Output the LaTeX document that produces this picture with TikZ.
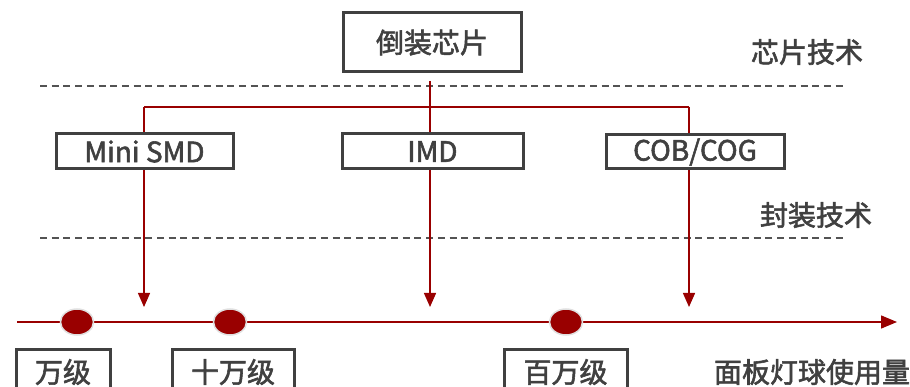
\documentclass[tikz,border=0pt]{standalone}
\usepackage{fontspec}
\setmainfont{Noto Sans CJK SC}[FakeBold=2]
\usetikzlibrary{arrows.meta,shapes.geometric}
\definecolor{dred}{HTML}{990000}
\definecolor{txt}{HTML}{404040}
\begin{document}
\begin{tikzpicture}[x=1pt,y=-1pt,
  box/.style={draw=txt,line width=3pt,fill=white,text=txt,inner sep=0pt,
    font=\fontsize{28}{30}\selectfont},
  lbl/.style={text=txt,inner sep=0pt,font=\fontsize{28}{30}\selectfont},
  conn/.style={draw=dred,line width=1.4pt},
  tip/.style={-{Triangle[width=12pt,length=14pt]}},
  dashln/.style={draw=txt!90,line width=1.8pt,dash pattern=on 7pt off 4.7pt},
  dot/.style={ellipse,fill=dred,draw=black!12,line width=1.5pt,
    minimum width=33pt,minimum height=26pt,inner sep=0pt}]
\useasboundingbox (0,0) rectangle (910,387);
% dashed separators
\coordinate (d1a) at (40,86); \coordinate (d1b) at (845,86);
\coordinate (d2a) at (40,238); \coordinate (d2b) at (845,238);
\draw[dashln] (d1a) -- (d1b);
\draw[dashln] (d2a) -- (d2b);
% connector coordinates
\coordinate (j0) at (430,81);
\coordinate (j1) at (430,107);
\coordinate (jl) at (144,107);
\coordinate (jr) at (689,107);
\coordinate (t1) at (144,307);
\coordinate (t2) at (430,307);
\coordinate (t3) at (689,307);
\coordinate (ax0) at (17,322);
\coordinate (ax1) at (897,322);
\draw[conn] (j0) -- (j1);
\draw[conn] (jl) -- (jr);
\draw[conn,tip,fill=dred] (jl) -- (t1);
\draw[conn,tip,fill=dred] (j1) -- (t2);
\draw[conn,tip,fill=dred] (jr) -- (t3);
\draw[conn,-{Triangle[width=13pt,length=16pt]},fill=dred] (ax0) -- (ax1);
% boxes
\node[box,minimum width=178pt,minimum height=59pt] (top) at (432,42.5) {倒装芯片};
\node[box,minimum width=177pt,minimum height=35pt] (mini) at (144.5,151.5) {Mini SMD};
\node[box,minimum width=181pt,minimum height=35pt] (imd) at (432.5,151.5) {IMD};
\node[box,minimum width=178pt,minimum height=34pt] (cob) at (695,152) {COB/COG};
% dots
\node[dot] (p1) at (77,322) {};
\node[dot] (p2) at (230,322) {};
\node[dot] (p3) at (566,322) {};
% bottom boxes
\node[box,minimum width=94pt,minimum height=50pt] (b1) at (63,374) {};
\node[box,minimum width=122pt,minimum height=50pt] (b2) at (233,374) {};
\node[box,minimum width=123pt,minimum height=50pt] (b3) at (565.5,374) {};
\node[lbl] (b1t) at (63,372) {万级};
\node[lbl] (b2t) at (233,372) {十万级};
\node[lbl] (b3t) at (565.5,372) {百万级};
% labels
\node[lbl] (l1) at (807,52) {芯片技术};
\node[lbl] (l2) at (816,215) {封装技术};
\node[lbl] (l3) at (812,372) {面板灯球使用量};
\end{tikzpicture}
\end{document}
